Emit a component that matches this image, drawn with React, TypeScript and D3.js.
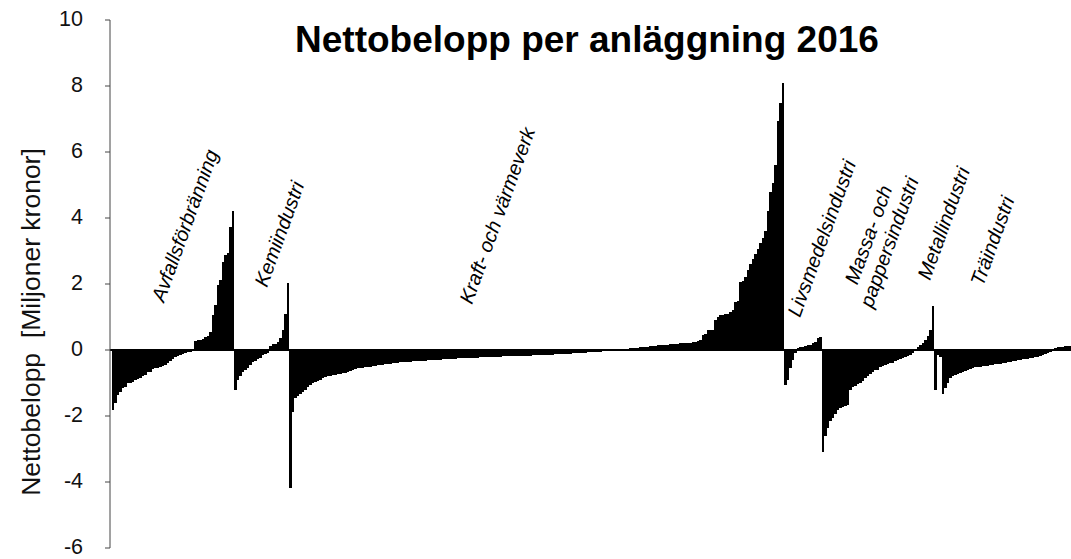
import React from "react";
import * as d3 from "d3";

// ---- Data (Miljoner kronor), each industry sorted as in the picture ----
const avfall = [
  -1.82, -1.6, -1.36, -1.26, -1.15, -1.11, -0.99, -0.99, -0.97, -0.91,
  -0.88, -0.86, -0.78, -0.76, -0.68, -0.66, -0.58, -0.56, -0.54, -0.5,
  -0.47, -0.45, -0.38, -0.33, -0.27, -0.22, -0.18, -0.14, -0.11, -0.09,
  -0.07, -0.05, -0.03, 0.28, 0.3, 0.3, 0.32, 0.38, 0.42, 0.55,
  1.06, 1.36, 1.97, 2.12, 2.68, 2.88, 2.95, 3.72, 4.22,
];
const kemi = [
  -1.21, -0.9, -0.79, -0.68, -0.6, -0.55, -0.45, -0.37, -0.33, -0.26,
  -0.23, -0.16, -0.13, -0.08, 0.12, 0.17, 0.19, 0.25, 0.35, 0.6,
  1.1, 2.02,
];
const kraft = [
  -4.18, -1.87, -1.46, -1.38, -1.33, -1.28, -1.2, -1.12, -1.06, -1.0,
  -0.97, -0.95, -0.9, -0.85, -0.82, -0.8, -0.78, -0.76, -0.75, -0.74,
  -0.73, -0.71, -0.69, -0.66, -0.63, -0.61, -0.59, -0.56,
  -0.55, -0.54, -0.53, -0.52, -0.5, -0.49, -0.47, -0.46, -0.45, -0.44,
  -0.43, -0.42, -0.41, -0.4, -0.39, -0.38, -0.37, -0.36, -0.36, -0.35,
  -0.35, -0.34, -0.34, -0.33, -0.33, -0.32, -0.32, -0.31, -0.31, -0.3,
  -0.3, -0.29, -0.29, -0.28, -0.28, -0.27, -0.27, -0.26, -0.26, -0.25,
  -0.25, -0.25, -0.24, -0.24, -0.24, -0.23, -0.23, -0.23, -0.22, -0.22,
  -0.22, -0.21, -0.21, -0.21, -0.2, -0.2, -0.2, -0.19, -0.19, -0.19,
  -0.18, -0.18, -0.18, -0.18, -0.18, -0.17, -0.17, -0.17, -0.17, -0.16,
  -0.16, -0.16, -0.15, -0.15, -0.15, -0.14, -0.14, -0.14, -0.13, -0.13,
  -0.13, -0.12, -0.12, -0.11, -0.11, -0.1, -0.1, -0.09, -0.09, -0.08,
  -0.08, -0.07, -0.07, -0.06, -0.06, -0.05, -0.05, -0.04, -0.04, -0.03,
  -0.03, -0.03, -0.02, -0.02, -0.01, -0.01,
  0.03, 0.04, 0.05, 0.05, 0.06, 0.07, 0.08, 0.09, 0.1, 0.1,
  0.11, 0.12, 0.13, 0.14, 0.15, 0.15, 0.16, 0.16, 0.17, 0.17,
  0.18, 0.19, 0.2, 0.2, 0.21, 0.22, 0.22, 0.23, 0.25, 0.28,
  0.3, 0.45,
  0.5, 0.6, 0.6, 0.62, 0.9, 1.0, 1.06, 1.07, 1.08, 1.1,
  1.16, 1.2, 1.45, 1.5, 2.07, 2.1, 2.22, 2.42, 2.6, 2.75,
  2.9, 3.05, 3.25, 3.4, 3.6, 4.2, 4.8, 5.05, 5.6, 6.95,
  7.5, 8.08,
];
const livsmedel = [
  -1.06, -0.9, -0.55, -0.3, -0.1, 0.05, 0.08, 0.1, 0.11, 0.14, 0.16, 0.2, 0.25, 0.35, 0.4,
];
const massa = [
  -3.08, -2.6, -2.35, -2.15, -2.05, -1.95, -1.82, -1.75, -1.72, -1.7,
  -1.67, -1.2, -1.12, -1.1, -1.04, -1.0, -0.93, -0.86, -0.8, -0.72,
  -0.68, -0.62, -0.6, -0.52, -0.48, -0.46, -0.42, -0.4, -0.38, -0.33,
  -0.3, -0.28, -0.24, -0.2, -0.18, -0.15, -0.1, 0.04, 0.08, 0.15,
  0.22, 0.3, 0.42, 0.6, 1.33,
];
const metall = [-1.2, -0.15, -0.2];
const tra = [
  -1.34, -1.16, -1.0, -0.86, -0.78, -0.76, -0.73, -0.71, -0.68, -0.63,
  -0.61, -0.59, -0.55, -0.53, -0.52, -0.5, -0.49, -0.48, -0.47, -0.46,
  -0.45, -0.43, -0.42, -0.41, -0.4, -0.38, -0.36, -0.35, -0.34, -0.33,
  -0.31, -0.3, -0.28, -0.27, -0.26, -0.25, -0.23, -0.21, -0.2, -0.18,
  -0.15, -0.12, -0.1, -0.06, -0.04, 0.06, 0.08, 0.08, 0.09, 0.11,
  0.12, 0.12,
];

const groupNames = [
  "Avfallsförbränning",
  "Kemiindustri",
  "Kraft- och värmeverk",
  "Livsmedelsindustri",
  "Massa- och pappersindustri",
  "Metallindustri",
  "Träindustri",
];
const groupValues = [avfall, kemi, kraft, livsmedel, massa, metall, tra];
const yTicks = [-6, -4, -2, 0, 2, 4, 6, 8, 10];

const title = "Nettobelopp per anläggning 2016";
const yTitle = "Nettobelopp  [Miljoner kronor]";

// ---- Layout (not data) ----
const W = 1071;
const H = 559;
const FONT = "Arial, 'Liberation Sans', Helvetica, sans-serif";
const labelLayout = [
  { x: 164, y: 303, lines: ["Avfallsförbränning"] },
  { x: 267, y: 288, lines: ["Kemiindustri"] },
  { x: 472, y: 305, lines: ["Kraft- och värmeverk"] },
  { x: 800, y: 318, lines: ["Livsmedelsindustri"] },
  { x: 875, y: 237, lines: ["Massa- och", "pappersindustri"], center: true },
  { x: 930, y: 281, lines: ["Metallindustri"] },
  { x: 983, y: 287, lines: ["Träindustri"] },
];

export default function App() {
  const bars: { id: string; v: number }[] = [];
  groupValues.forEach((vals, gi) =>
    vals.forEach((v, i) => bars.push({ id: `${gi}-${i}`, v }))
  );

  const x = d3
    .scaleBand<string>()
    .domain(bars.map((b) => b.id))
    .range([111.7, 1071.7])
    .padding(0);
  const y = d3.scaleLinear().domain([-6, 10]).range([548, 20]);
  const bw = x.bandwidth();
  const y0 = y(0);
  const axisX = 110;

  return (
    <svg
      width={W}
      height={H}
      style={{ position: "absolute", left: 0, top: 0, background: "#fff" }}
      fontFamily={FONT}
    >
      <rect x={0} y={0} width={W} height={H} fill="#fff" />
      {/* bars */}
      <g fill="#000" shapeRendering="crispEdges">
        {bars.map((b) => {
          const yv = y(b.v);
          const x0 = Math.round(x(b.id)!);
          const x1 = Math.round(x(b.id)! + bw);
          const top = Math.round(Math.min(yv, y0));
          const bot = Math.round(Math.max(yv, y0));
          return (
            <rect
              key={b.id}
              x={x0}
              width={Math.max(1, x1 - x0)}
              y={top}
              height={Math.max(0, bot - top)}
            />
          );
        })}
      </g>
      {/* zero line */}
      <line x1={axisX} x2={W} y1={y0} y2={y0} stroke="#000" strokeWidth={2} />
      {/* y axis */}
      <line x1={axisX} x2={axisX} y1={y(10)} y2={y(-6)} stroke="#444" strokeWidth={1} />
      {yTicks.map((t) => (
        <g key={t} transform={`translate(0,${y(t)})`}>
          <line x1={axisX - 5} x2={axisX} stroke="#444" strokeWidth={1} />
          <text
            x={axisX - 27}
            dy="0.3em"
            textAnchor="end"
            fontSize={21.5}
            fill="#111"
          >
            {t}
          </text>
        </g>
      ))}
      {/* y title */}
      <text
        transform={`translate(40,322) rotate(-90)`}
        textAnchor="middle"
        fontSize={26.5}
        fill="#111"
        style={{ whiteSpace: "pre" }}
      >
        {yTitle}
      </text>
      {/* title */}
      <text x={587} y={52} textAnchor="middle" fontSize={37} fontWeight="bold" fill="#000">
        {title}
      </text>
      {/* group labels */}
      {labelLayout.map((l, i) => (
        <text
          key={i}
          transform={`translate(${l.x},${l.y}) rotate(-70)`}
          fontSize={20}
          fontStyle="italic"
          fill="#000"
          textAnchor={l.center ? "middle" : "start"}
          aria-label={groupNames[i]}
        >
          {l.lines.map((ln, j) => (
            <tspan key={j} x={0} dy={j === 0 ? 0 : 22}>
              {ln}
            </tspan>
          ))}
        </text>
      ))}
    </svg>
  );
}
